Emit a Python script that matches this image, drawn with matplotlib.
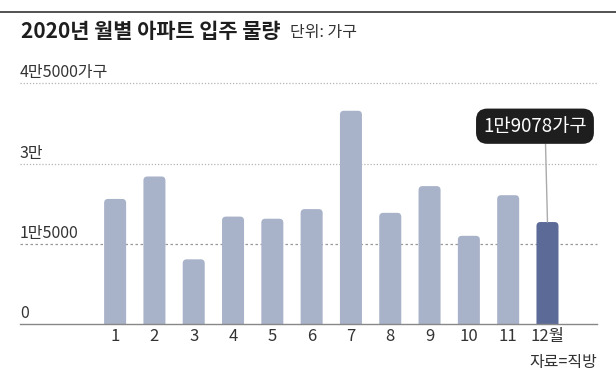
import matplotlib
matplotlib.use("Agg")
import matplotlib.pyplot as plt
from matplotlib.patches import FancyBboxPatch

plt.rcParams["font.family"] = ["Noto Sans CJK KR", "DejaVu Sans"]

# monthly move-in volume, households (Dec is labelled)
months = list(range(1, 13))
month_labels = ["1", "2", "3", "4", "5", "6", "7", "8", "9", "10", "11", "12월"]
units = [23400, 27600, 12100, 20100, 19700, 21500, 39900, 20800, 25800, 16500, 24100, 19078]
y_ticks = [0, 15000, 30000, 45000]
y_labels = ["0", "1만5000", "3만", "4만5000가구"]
callout = "1만9078가구"

LIGHT = "#a8b2c8"
DARK = "#5c6a98"
TXT = "#333333"

W, H = 616, 372
fig = plt.figure(figsize=(W / 100, H / 100), dpi=100)
ax = fig.add_axes([20 / W, (H - 324) / H, (597 - 20) / W, (324 - 83.5) / H])
ax.set_xlim(-1.42, 13.26)
ax.set_ylim(0, 45000)

# rounded-top bars (bottom corners hidden below y=0 by axes clip)
bw = 0.56
xpx = 1 / 39.3            # x units per pixel
ypx = 45000 / (324 - 83.5)  # y units per pixel
r = 4 * xpx
for m, v in zip(months, units):
    p = FancyBboxPatch((m - bw / 2, -2000), bw, v + 2000,
                       boxstyle=f"round,pad=0,rounding_size={r}",
                       mutation_aspect=ypx / xpx,
                       fc=DARK if m == 12 else LIGHT, ec="none", zorder=2)
    ax.add_patch(p)

# gridlines + labels
for t, lab in zip(y_ticks, y_labels):
    if t == 0:
        ax.axhline(0, color="#888888", lw=1.0, zorder=3, clip_on=False)
    elif t == 15000:
        ax.axhline(t, color="#999999", lw=0.9, ls=(0, (2, 2)), zorder=1, clip_on=False)
    else:
        ax.axhline(t, color="#b5b5b5", lw=0.9, ls=(0, (1, 1.5)), zorder=1, clip_on=False)
    ax.annotate(lab, (ax.get_xlim()[0], t), xytext=(0, 1.5), textcoords="offset points",
                ha="left", va="bottom", fontsize=11.5, color=TXT)

ax.set_xticks(months)
ax.set_xticklabels(month_labels, fontsize=12, color=TXT)
ax.tick_params(axis="x", length=0, pad=3)
ax.set_yticks([])
for s in ax.spines.values():
    s.set_visible(False)

# callout for December
ax.annotate(callout, (12, units[11]), xytext=(-9, 69), textcoords="offset points",
            ha="center", va="center", fontsize=13.5, color="white",
            bbox=dict(boxstyle="round,pad=0.38,rounding_size=0.6", fc="#1e1e1e", ec="none"),
            arrowprops=dict(arrowstyle="-", color="#aaaaaa", lw=1, relpos=(0.6, 0),
                            shrinkA=0, shrinkB=0),
            zorder=5)

# header
fig.add_artist(plt.Line2D([0, 1], [(H - 12) / H] * 2, color="#444444", lw=1.3))
title = fig.text(21 / W, (H - 32) / H, "2020년 월별 아파트 입주 물량", fontsize=15,
                 fontweight="heavy", color="#1e1e1e", ha="left", va="center")
fig.canvas.draw()
bb = title.get_window_extent()
fig.text((bb.x1 + 10) / W, (H - 32) / H, "단위: 가구", fontsize=11.5, color=TXT,
         ha="left", va="center")

fig.text(597 / W, (H - 362) / H, "자료=직방", fontsize=11.5, color=TXT, ha="right", va="center")

fig.savefig("out.png", dpi=100)
